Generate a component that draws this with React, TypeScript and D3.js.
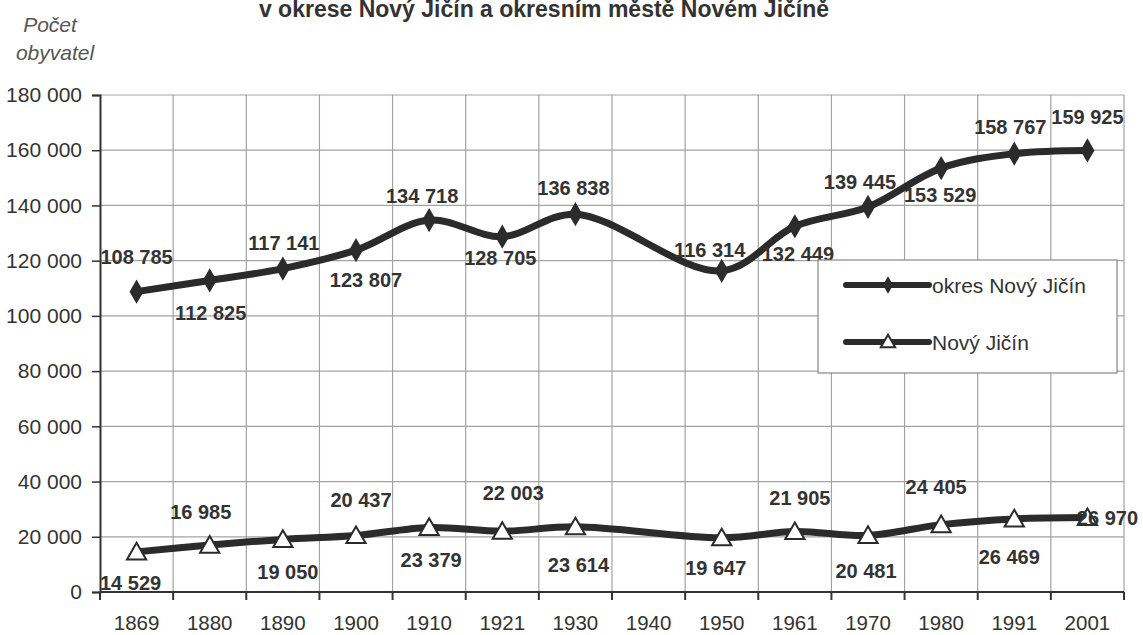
import { useEffect, useRef } from "react";
import * as d3 from "d3";

const years = ["1869", "1880", "1890", "1900", "1910", "1921", "1930", "1940", "1950", "1961", "1970", "1980", "1991", "2001"];
const okres = [108785, 112825, 117141, 123807, 134718, 128705, 136838, null, 116314, 132449, 139445, 153529, 158767, 159925];
const mesto = [14529, 16985, 19050, 20437, 23379, 22003, 23614, null, 19647, 21905, 20481, 24405, 26469, 26970];
const yTicks = [0, 20000, 40000, 60000, 80000, 100000, 120000, 140000, 160000, 180000];
const seriesNames = ["okres Nový Jičín", "Nový Jičín"];
const title = "v okrese Nový Jičín a okresním městě Novém Jičíně";

// where Excel put each data label, relative to its point
const okresLabelPos = [[0, -35], [1, 33], [1, -26], [10, 30], [-7, -24], [-2, 21], [-2, -26], null, [-12, -21], [3, 28], [-8, -25], [-1, 27], [-4, -27], [0, -33]];
const mestoLabelPos = [[-6, 31], [-9, -33], [5, 33], [5, -36], [2, 33], [11, -38], [3, 38], null, [-6, 30], [5, -34], [-2, 36], [-5, -38], [-5, 38], [20, 0]];

const fmt = (v: number) => d3.format(",")(v).replace(/,/g, " ");
const FONT = "'Liberation Sans', Arial, sans-serif";

export default function App() {
  const ref = useRef<SVGSVGElement>(null);

  useEffect(() => {
    const width = 1143;
    const height = 635;
    const marginLeft = 100;
    const marginRight = 19;
    const marginTop = 95;
    const marginBottom = 43;

    const svg = d3.select(ref.current);
    svg.selectAll("*").remove();
    svg.attr("font-family", FONT);

    const x = d3.scaleBand().domain(years).range([marginLeft, width - marginRight]);
    const y = d3.scaleLinear().domain([0, 180000]).range([height - marginBottom, marginTop]);
    const cx = (i: number) => x(years[i])! + x.bandwidth() / 2;

    // title, cut at the top edge like the scan
    svg.append("text")
      .attr("x", 544).attr("y", 17)
      .attr("text-anchor", "middle")
      .attr("font-size", 23).attr("font-weight", "bold").attr("fill", "#333")
      .text(title);

    svg.append("text")
      .attr("x", 50).attr("y", 32)
      .attr("text-anchor", "middle").attr("font-style", "italic")
      .attr("font-size", 21).attr("fill", "#555")
      .text("Počet");
    svg.append("text")
      .attr("x", 55).attr("y", 60)
      .attr("text-anchor", "middle").attr("font-style", "italic")
      .attr("font-size", 21).attr("fill", "#555")
      .text("obyvatel");

    // grid
    const grid = svg.append("g").attr("stroke", "#a3a3a3").attr("stroke-width", 1.2);
    grid.selectAll("line.h")
      .data(yTicks.slice(1))
      .join("line")
      .attr("x1", marginLeft).attr("x2", width - marginRight)
      .attr("y1", d => y(d)).attr("y2", d => y(d));
    const bounds = years.map(d => x(d)!).concat([width - marginRight]);
    grid.selectAll("line.v")
      .data(bounds.slice(1))
      .join("line")
      .attr("x1", d => d).attr("x2", d => d)
      .attr("y1", marginTop).attr("y2", height - marginBottom);

    // axes
    const yAxis = svg.append("g")
      .attr("transform", `translate(${marginLeft},0)`)
      .call(d3.axisLeft(y).tickValues(yTicks).tickFormat(d => fmt(+d)).tickSize(8).tickPadding(10));
    yAxis.select("path.domain").attr("stroke", "#333").attr("stroke-width", 2);
    yAxis.selectAll(".tick line").attr("stroke", "#333").attr("stroke-width", 1.5);
    yAxis.selectAll(".tick text").attr("font-size", 21).attr("fill", "#333").attr("font-family", FONT);

    const xAxisG = svg.append("g").attr("transform", `translate(0,${height - marginBottom})`);
    xAxisG.append("line")
      .attr("x1", marginLeft).attr("x2", width - marginRight)
      .attr("stroke", "#333").attr("stroke-width", 2);
    xAxisG.selectAll("line.t")
      .data(bounds)
      .join("line")
      .attr("x1", d => d).attr("x2", d => d)
      .attr("y1", 0).attr("y2", 8)
      .attr("stroke", "#333").attr("stroke-width", 2);
    xAxisG.selectAll("text")
      .data(years)
      .join("text")
      .attr("x", (d, i) => cx(i))
      .attr("y", 38)
      .attr("text-anchor", "middle")
      .attr("font-size", 20.5).attr("fill", "#333")
      .text(d => d);

    const line = d3.line<[number, number]>().curve(d3.curveCatmullRom.alpha(0.5));
    const pts = (vals: (number | null)[]) =>
      vals.map((v, i) => (v == null ? null : [cx(i), y(v)] as [number, number])).filter(p => p != null) as [number, number][];

    [okres, mesto].forEach(vals => {
      svg.append("path")
        .attr("d", line(pts(vals)))
        .attr("fill", "none")
        .attr("stroke", "#2b2b2b")
        .attr("stroke-width", 7)
        .attr("stroke-linejoin", "round");
    });

    const diamond = d3.symbol(d3.symbolDiamond, 170);
    const triangle = d3.symbol(d3.symbolTriangle, 160);

    svg.append("g").selectAll("path")
      .data(pts(okres))
      .join("path")
      .attr("transform", d => `translate(${d[0]},${d[1]})`)
      .attr("d", diamond())
      .attr("fill", "#2b2b2b");

    svg.append("g").selectAll("path")
      .data(pts(mesto))
      .join("path")
      .attr("transform", d => `translate(${d[0]},${d[1] + 2})`)
      .attr("d", triangle())
      .attr("fill", "white").attr("stroke", "#2b2b2b").attr("stroke-width", 2);

    // data labels
    const labels = (vals: (number | null)[], pos: (number[] | null)[]) => {
      const g = svg.append("g");
      vals.forEach((v, i) => {
        if (v == null || !pos[i]) return;
        g.append("text")
          .attr("x", cx(i) + pos[i]![0])
          .attr("y", y(v) + pos[i]![1])
          .attr("dy", "0.35em")
          .attr("text-anchor", "middle")
          .attr("font-size", 20).attr("font-weight", "bold").attr("fill", "#333")
          .text(fmt(v));
      });
    };
    labels(okres, okresLabelPos);
    labels(mesto, mestoLabelPos);

    // legend
    const lg = svg.append("g").attr("transform", "translate(818,260)");
    lg.append("rect")
      .attr("width", 299).attr("height", 113)
      .attr("fill", "white").attr("stroke", "#888").attr("stroke-width", 1.2);
    seriesNames.forEach((name, i) => {
      const ly = 25 + i * 57;
      lg.append("line")
        .attr("x1", 28).attr("x2", 111).attr("y1", ly).attr("y2", ly)
        .attr("stroke", "#2b2b2b").attr("stroke-width", 6).attr("stroke-linecap", "round");
      lg.append("path")
        .attr("transform", `translate(70,${ly + (i === 1 ? 1 : 0)})`)
        .attr("d", (i === 0 ? d3.symbol(d3.symbolDiamond, 90) : d3.symbol(d3.symbolTriangle, 90))())
        .attr("fill", i === 0 ? "#2b2b2b" : "white")
        .attr("stroke", "#2b2b2b").attr("stroke-width", i === 0 ? 0 : 2);
      lg.append("text")
        .attr("x", 114).attr("y", ly + 1)
        .attr("dy", "0.35em")
        .attr("font-size", 21).attr("fill", "#333")
        .text(name);
    });
  }, []);

  return (
    <div style={{ position: "fixed", left: 0, top: 0 }}>
      <svg ref={ref} width={1143} height={635} style={{ display: "block", background: "white" }} />
    </div>
  );
}
